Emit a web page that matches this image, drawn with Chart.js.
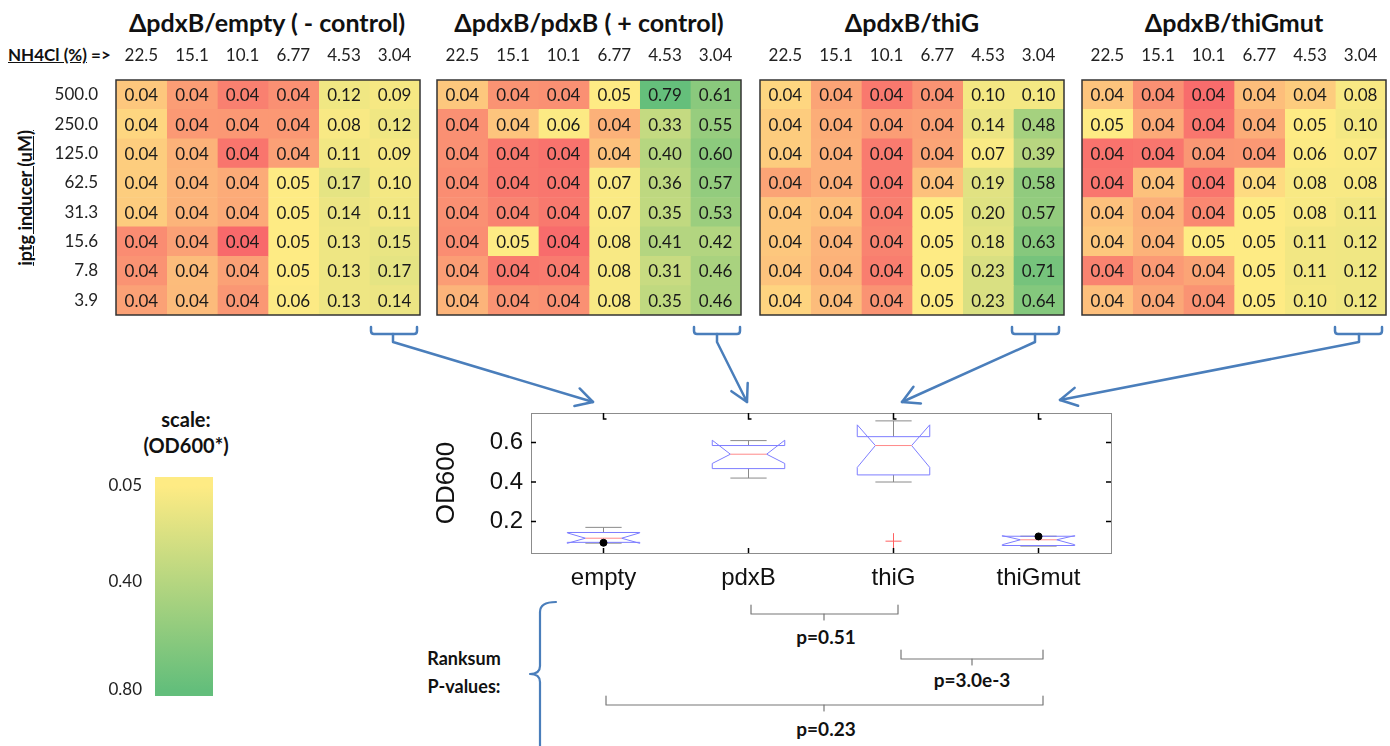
<!DOCTYPE html>
<html>
<head>
<meta charset="utf-8">
<script src="https://cdn.jsdelivr.net/npm/chart.js@4.4.1/dist/chart.umd.min.js"></script>
<style>
body{margin:0;background:#fff;width:1390px;height:746px;overflow:hidden;position:relative;font-family:Lato,sans-serif;color:#111}
canvas{position:absolute}
.txt{position:absolute;transform:translate(-50%,-50%);white-space:nowrap}
.b{font-weight:bold}
svg{position:absolute;left:0;top:0;pointer-events:none}
</style>
</head>
<body>
<!-- heatmap titles -->
<div class="txt b" style="left:267px;top:22px;font-size:25px">ΔpdxB/empty ( - control)</div>
<div class="txt b" style="left:589px;top:22px;font-size:25px">ΔpdxB/pdxB ( + control)</div>
<div class="txt b" style="left:912px;top:22px;font-size:25px">ΔpdxB/thiG</div>
<div class="txt b" style="left:1234px;top:22px;font-size:25px">ΔpdxB/thiGmut</div>
<div class="b" style="position:absolute;left:8px;top:44px;font-size:17px"><u>NH4Cl (%)</u> =&gt;</div>
<div class="txt b" style="left:25px;top:198px;font-size:18px;transform:translate(-50%,-50%) rotate(-90deg)"><u>iptg inducer (uM)</u></div>

<canvas id="heat1" width="382" height="279" style="left:40px;top:38px"></canvas>
<canvas id="heat2" width="308" height="279" style="left:435px;top:38px"></canvas>
<canvas id="heat3" width="308" height="279" style="left:758px;top:38px"></canvas>
<canvas id="heat4" width="308" height="279" style="left:1080px;top:38px"></canvas>

<!-- colour scale -->
<div class="txt b" style="left:186px;top:419px;font-size:20px">scale:</div>
<div class="txt b" style="left:186px;top:445px;font-size:20px">(OD600*)</div>
<canvas id="scaleBar" width="113" height="235" style="left:100px;top:470px"></canvas>

<!-- box plot -->
<canvas id="boxPlot" width="700" height="200" style="left:420px;top:400px"></canvas>

<!-- ranksum notes -->
<div class="txt b" style="left:464px;top:658px;font-size:18px">Ranksum</div>
<div class="txt b" style="left:464px;top:686px;font-size:18px">P-values:</div>
<div class="txt b" style="left:826px;top:636px;font-size:19px">p=0.51</div>
<div class="txt b" style="left:972px;top:679px;font-size:19px">p=3.0e-3</div>
<div class="txt b" style="left:826px;top:728px;font-size:19px">p=0.23</div>

<svg id="marks" width="1390" height="746"></svg>

<script>
Chart.defaults.font.family = "Lato, sans-serif";
Chart.defaults.color = "#222";
Chart.defaults.animation = false;

// heatmap axes
const colLabels = ["22.5", "15.1", "10.1", "6.77", "4.53", "3.04"];
const rowLabels = ["500.0", "250.0", "125.0", "62.5", "31.3", "15.6", "7.8", "3.9"];

// OD600 per cell (rows = iptg, cols = NH4Cl), 3rd decimal estimated from shading
const odEmpty = [
    [0.0432, 0.0400, 0.0378, 0.0390, 0.12, 0.09],
    [0.0444, 0.0397, 0.0396, 0.0396, 0.08, 0.12],
    [0.0437, 0.0416, 0.0369, 0.0402, 0.11, 0.09],
    [0.0437, 0.0418, 0.0411, 0.05, 0.17, 0.10],
    [0.0436, 0.0418, 0.0410, 0.05, 0.14, 0.11],
    [0.0387, 0.0403, 0.0360, 0.05, 0.13, 0.15],
    [0.0392, 0.0424, 0.0403, 0.05, 0.13, 0.17],
    [0.0403, 0.0423, 0.0395, 0.06, 0.13, 0.14]
];
const odPdxB = [
    [0.0432, 0.0392, 0.0390, 0.05, 0.79, 0.61],
    [0.0390, 0.0430, 0.06, 0.0415, 0.33, 0.55],
    [0.0390, 0.0372, 0.0368, 0.0428, 0.40, 0.60],
    [0.0388, 0.0372, 0.0370, 0.07, 0.36, 0.57],
    [0.0390, 0.0380, 0.0372, 0.07, 0.35, 0.53],
    [0.0388, 0.05, 0.0362, 0.08, 0.41, 0.42],
    [0.0400, 0.0372, 0.0374, 0.08, 0.31, 0.46],
    [0.0418, 0.0392, 0.0390, 0.08, 0.35, 0.46]
];
const odThiG = [
    [0.0444, 0.0405, 0.0372, 0.0392, 0.10, 0.10],
    [0.0436, 0.0412, 0.0400, 0.0403, 0.14, 0.48],
    [0.0436, 0.0414, 0.0374, 0.0405, 0.07, 0.39],
    [0.0405, 0.0414, 0.0374, 0.0428, 0.19, 0.58],
    [0.0432, 0.0428, 0.0378, 0.05, 0.20, 0.57],
    [0.0432, 0.0418, 0.0380, 0.05, 0.18, 0.63],
    [0.0430, 0.0416, 0.0376, 0.05, 0.23, 0.71],
    [0.0442, 0.0424, 0.0392, 0.05, 0.23, 0.64]
];
const odThiGmut = [
    [0.0430, 0.0390, 0.0362, 0.0425, 0.0436, 0.08],
    [0.05, 0.0410, 0.0370, 0.0412, 0.05, 0.10],
    [0.0368, 0.0370, 0.0395, 0.0396, 0.06, 0.07],
    [0.0370, 0.0428, 0.0370, 0.0448, 0.08, 0.08],
    [0.0428, 0.0414, 0.0384, 0.05, 0.08, 0.11],
    [0.0432, 0.0416, 0.05, 0.05, 0.11, 0.12],
    [0.0380, 0.0398, 0.0405, 0.05, 0.11, 0.12],
    [0.0426, 0.0408, 0.0392, 0.05, 0.10, 0.12]
];

// colour scale
const scaleTicks = [0.05, 0.40, 0.80];
const scaleMin = 0.017;
const scaleMax = 0.822;

// box plot of the 3.04 column
const groups = ["empty", "pdxB", "thiG", "thiGmut"];
const whiskLo = [0.09, 0.42, 0.40, 0.075];
const boxQ1 = [0.094, 0.468, 0.436, 0.078];
const boxMed = [0.115, 0.541, 0.585, 0.107];
const boxQ3 = [0.144, 0.585, 0.63, 0.125];
const whiskHi = [0.17, 0.61, 0.71, 0.125];
const notchLo = [0.089, 0.494, 0.474, 0.082];
const notchHi = [0.142, 0.612, 0.69, 0.128];
const outlierGroup = ["thiG"];
const outlierVal = [0.10];
const dotGroup = ["empty", "thiGmut"];
const dotVal = [0.092, 0.124];
const odTicks = [0.2, 0.4, 0.6];

// excel-like 3 colour scale
const heatStops = [
    [0.036, [248, 105, 107]],
    [0.046, [255, 235, 132]],
    [0.80, [99, 190, 123]]
];

function heatColor(v) {
    if (v <= heatStops[0][0]) return "rgb(" + heatStops[0][1].join(",") + ")";
    for (var k = 1; k < heatStops.length; k++) {
        if (v <= heatStops[k][0] || k == heatStops.length - 1) {
            var a = heatStops[k - 1], b = heatStops[k];
            var t = Math.min(1, (v - a[0]) / (b[0] - a[0]));
            var c = a[1].map((x, i) => Math.round(x + (b[1][i] - x) * t));
            return "rgb(" + c.join(",") + ")";
        }
    }
}

// keep chart areas where they are put: no extra room for edge labels
function noEdgePad(ax) {
    ax.paddingTop = 0;
    ax.paddingBottom = 0;
    ax.paddingLeft = 0;
    ax.paddingRight = 0;
}

const cellText = {
    id: "cellText",
    afterDatasetsDraw(chart) {
        const ctx = chart.ctx;
        ctx.save();
        ctx.font = "17px Lato, sans-serif";
        ctx.fillStyle = "#1a1a1a";
        ctx.textAlign = "center";
        ctx.textBaseline = "middle";
        chart.data.datasets.forEach((ds, di) => {
            chart.getDatasetMeta(di).data.forEach((bar, i) => {
                const p = bar.getCenterPoint();
                ctx.fillText(ds.data[i].v.toFixed(2), p.x, p.y + 1);
            });
        });
        const a = chart.chartArea;
        ctx.strokeStyle = "#333";
        ctx.lineWidth = 1.5;
        ctx.strokeRect(a.left, a.top, a.right - a.left, a.bottom - a.top);
        ctx.restore();
    }
};

function makeHeat(id, values, showRows) {
    var datasets = colLabels.map((c, j) => ({
        label: c,
        data: rowLabels.map((r, i) => ({ y: r, x: [j, j + 1], v: values[i][j] })),
        backgroundColor: (ctx) => (ctx.raw ? heatColor(ctx.raw.v) : "#fff"),
        borderWidth: 0,
        barPercentage: 1,
        categoryPercentage: 1,
        grouped: false
    }));

    return new Chart(document.getElementById(id), {
        type: "bar",
        data: { labels: rowLabels, datasets: datasets },
        options: {
            indexAxis: "y",
            responsive: false,
            layout: { padding: { left: showRows ? 0 : 2, right: 2, top: 0, bottom: 2 } },
            plugins: { legend: { display: false }, tooltip: { enabled: false } },
            scales: {
                x: {
                    type: "linear",
                    position: "top",
                    min: 0,
                    max: 6,
                    grid: { display: false },
                    border: { display: false },
                    afterBuildTicks: (ax) => {
                        ax.ticks = colLabels.map((c, j) => ({ value: j + 0.5 }));
                    },
                    afterFit: (ax) => {
                        ax.height = 42;
                        noEdgePad(ax);
                    },
                    ticks: {
                        callback: (v, i) => colLabels[i],
                        font: { size: 17 },
                        color: "#222",
                        padding: 6,
                        maxRotation: 0,
                        autoSkip: false
                    }
                },
                y: {
                    display: showRows,
                    grid: { display: false },
                    border: { display: false },
                    afterFit: (ax) => {
                        ax.width = showRows ? 76 : 0;
                        noEdgePad(ax);
                    },
                    ticks: { font: { size: 17 }, color: "#222", padding: 10 }
                }
            }
        },
        plugins: [cellText]
    });
}

makeHeat("heat1", odEmpty, true);
makeHeat("heat2", odPdxB, false);
makeHeat("heat3", odThiG, false);
makeHeat("heat4", odThiGmut, false);

// colour scale bar
new Chart(document.getElementById("scaleBar"), {
    type: "bar",
    data: {
        labels: ["OD600"],
        datasets: [{
            data: [[scaleMin, scaleMax]],
            backgroundColor: (ctx) => {
                const chart = ctx.chart;
                const area = chart.chartArea;
                if (!area) return "#ffeb84";
                const y = chart.scales.y;
                const g = chart.ctx.createLinearGradient(0, area.top, 0, area.bottom);
                g.addColorStop(0, heatColor(scaleTicks[0]));
                scaleTicks.forEach((v) => {
                    const t = (y.getPixelForValue(v) - area.top) / (area.bottom - area.top);
                    g.addColorStop(Math.max(0, Math.min(1, t)), heatColor(v));
                });
                g.addColorStop(1, heatColor(scaleTicks[scaleTicks.length - 1]));
                return g;
            },
            borderWidth: 0,
            barPercentage: 1,
            categoryPercentage: 1
        }]
    },
    options: {
        responsive: false,
        layout: { padding: { top: 7, bottom: 9, left: 0, right: 0 } },
        plugins: { legend: { display: false }, tooltip: { enabled: false } },
        scales: {
            x: { display: false },
            y: {
                reverse: true,
                min: scaleMin,
                max: scaleMax,
                grid: { display: false },
                border: { display: false },
                afterBuildTicks: (ax) => {
                    ax.ticks = scaleTicks.map((v) => ({ value: v }));
                },
                afterFit: (ax) => {
                    ax.width = 55;
                    noEdgePad(ax);
                },
                ticks: { callback: (v) => v.toFixed(2), font: { size: 17 }, color: "#222", padding: 5 }
            }
        }
    }
});

// box plot
const boxDraw = {
    id: "boxDraw",
    beforeDatasetsDraw(chart) {
        const ctx = chart.ctx;
        const x = chart.scales.x, y = chart.scales.y;
        const px = (v) => x.getPixelForValue(v);
        const py = (v) => y.getPixelForValue(v);
        function seg(x1, y1, x2, y2) {
            ctx.beginPath();
            ctx.moveTo(x1, y1);
            ctx.lineTo(x2, y2);
            ctx.stroke();
        }
        ctx.save();
        ctx.lineWidth = 1;
        groups.forEach((g, i) => {
            const cx = i + 1, w = 0.25;
            ctx.strokeStyle = "#8a8a8a";
            seg(px(cx), py(boxQ3[i]), px(cx), py(whiskHi[i]));
            seg(px(cx), py(boxQ1[i]), px(cx), py(whiskLo[i]));
            seg(px(cx - w / 2), py(whiskHi[i]), px(cx + w / 2), py(whiskHi[i]));
            seg(px(cx - w / 2), py(whiskLo[i]), px(cx + w / 2), py(whiskLo[i]));

            ctx.strokeStyle = "#7d7dff";
            ctx.beginPath();
            ctx.moveTo(px(cx - w), py(boxQ1[i]));
            ctx.lineTo(px(cx - w), py(notchLo[i]));
            ctx.lineTo(px(cx - w / 2), py(boxMed[i]));
            ctx.lineTo(px(cx - w), py(notchHi[i]));
            ctx.lineTo(px(cx - w), py(boxQ3[i]));
            ctx.lineTo(px(cx + w), py(boxQ3[i]));
            ctx.lineTo(px(cx + w), py(notchHi[i]));
            ctx.lineTo(px(cx + w / 2), py(boxMed[i]));
            ctx.lineTo(px(cx + w), py(notchLo[i]));
            ctx.lineTo(px(cx + w), py(boxQ1[i]));
            ctx.closePath();
            ctx.stroke();

            ctx.strokeStyle = "#ff8a8a";
            seg(px(cx - w / 2), py(boxMed[i]), px(cx + w / 2), py(boxMed[i]));
        });
        ctx.restore();
    },
    afterDraw(chart) {
        const ctx = chart.ctx;
        const a = chart.chartArea;
        const x = chart.scales.x, y = chart.scales.y;
        ctx.save();
        ctx.strokeStyle = "#8c8c8c";
        ctx.lineWidth = 1;
        ctx.strokeRect(a.left + 0.5, a.top + 0.5, a.right - a.left, a.bottom - a.top);
        ctx.strokeStyle = "#000";
        ctx.lineWidth = 1.5;
        y.ticks.forEach((t) => {
            const yy = y.getPixelForValue(t.value);
            ctx.beginPath();
            ctx.moveTo(a.left, yy); ctx.lineTo(a.left + 5, yy);
            ctx.moveTo(a.right, yy); ctx.lineTo(a.right - 5, yy);
            ctx.stroke();
        });
        x.ticks.forEach((t) => {
            const xx = x.getPixelForValue(t.value);
            ctx.beginPath();
            ctx.moveTo(xx, a.top); ctx.lineTo(xx, a.top + 6); ctx.lineTo(xx + 3, a.top + 6);
            ctx.moveTo(xx, a.bottom); ctx.lineTo(xx, a.bottom - 5);
            ctx.stroke();
        });
        ctx.restore();
    }
};

new Chart(document.getElementById("boxPlot"), {
    type: "scatter",
    data: {
        datasets: [
            {
                label: "outliers",
                data: outlierGroup.map((g, i) => ({ x: groups.indexOf(g) + 1, y: outlierVal[i] })),
                pointStyle: "cross",
                radius: 8,
                borderColor: "#ff6060",
                borderWidth: 1
            },
            {
                label: "markers",
                data: dotGroup.map((g, i) => ({ x: groups.indexOf(g) + 1, y: dotVal[i] })),
                pointStyle: "circle",
                radius: 3.5,
                backgroundColor: "#000",
                borderColor: "#000"
            }
        ]
    },
    options: {
        responsive: false,
        layout: { padding: { top: 13, right: 7, left: 0, bottom: 0 } },
        plugins: { legend: { display: false }, tooltip: { enabled: false } },
        scales: {
            x: {
                type: "linear",
                min: 0.5,
                max: 4.5,
                grid: { display: false },
                border: { display: false },
                afterBuildTicks: (ax) => {
                    ax.ticks = groups.map((g, i) => ({ value: i + 1 }));
                },
                afterFit: (ax) => {
                    ax.height = 47;
                    noEdgePad(ax);
                },
                ticks: {
                    callback: (v, i) => groups[i],
                    font: { family: "'Liberation Sans', Arial, sans-serif", size: 24 },
                    color: "#111",
                    padding: 3,
                    maxRotation: 0,
                    autoSkip: false
                }
            },
            y: {
                min: 0.04,
                max: 0.75,
                grid: { display: false },
                border: { display: false },
                afterBuildTicks: (ax) => {
                    ax.ticks = odTicks.map((v) => ({ value: v }));
                },
                afterFit: (ax) => {
                    ax.width = 111;
                    noEdgePad(ax);
                },
                title: {
                    display: true,
                    text: "OD600",
                    font: { family: "'Liberation Sans', Arial, sans-serif", size: 26 },
                    color: "#111",
                    padding: { top: 11, bottom: 0 }
                },
                ticks: {
                    callback: (v) => v.toFixed(1),
                    font: { family: "'Liberation Sans', Arial, sans-serif", size: 24 },
                    color: "#111",
                    padding: 0
                }
            }
        }
    },
    plugins: [boxDraw]
});

// arrows and brackets (annotation only)
const svg = document.getElementById("marks");
function addPath(d, color, width) {
    const p = document.createElementNS("http://www.w3.org/2000/svg", "path");
    p.setAttribute("d", d);
    p.setAttribute("fill", "none");
    p.setAttribute("stroke", color);
    p.setAttribute("stroke-width", width);
    p.setAttribute("stroke-linejoin", "round");
    p.setAttribute("stroke-linecap", "round");
    svg.appendChild(p);
}

function bracketArrow(x1, x2, xs, tx, ty) {
    var blue = "#4a7ebb";
    addPath("M" + x1 + " 327 V331 Q" + x1 + " 334 " + (x1 + 3) + " 334 H" + (x2 - 3) +
        " Q" + x2 + " 334 " + x2 + " 331 V327", blue, 2.5);
    addPath("M" + xs + " 334 V342 L" + tx + " " + ty, blue, 2.5);
    var ang = Math.atan2(ty - 342, tx - xs);
    var len = 19, spread = 0.5;
    var ax = tx - len * Math.cos(ang - spread), ay = ty - len * Math.sin(ang - spread);
    var bx = tx - len * Math.cos(ang + spread), by = ty - len * Math.sin(ang + spread);
    addPath("M" + ax + " " + ay + " L" + tx + " " + ty + " L" + bx + " " + by, blue, 2.5);
}

bracketArrow(371, 417, 393, 593, 402);
bracketArrow(694, 740, 717, 747, 402);
bracketArrow(1012, 1059, 1035, 902, 402);
bracketArrow(1335, 1382, 1359, 1060, 400);

function pBracket(x1, x2, xs, y1) {
    addPath("M" + x1 + " " + y1 + " V" + (y1 + 9) + " H" + x2 + " V" + y1, "#777", 1.2);
    addPath("M" + xs + " " + (y1 + 9) + " V" + (y1 + 15), "#777", 1.2);
}
pBracket(751, 898, 824, 605);
pBracket(901, 1043, 972, 650);
pBracket(606, 1043, 824, 696);

addPath("M556 602 Q540 602 540 612 V666 Q540 674 530 674 Q540 674 540 682 V746", "#4a7ebb", 2.2);
</script>
</body>
</html>
